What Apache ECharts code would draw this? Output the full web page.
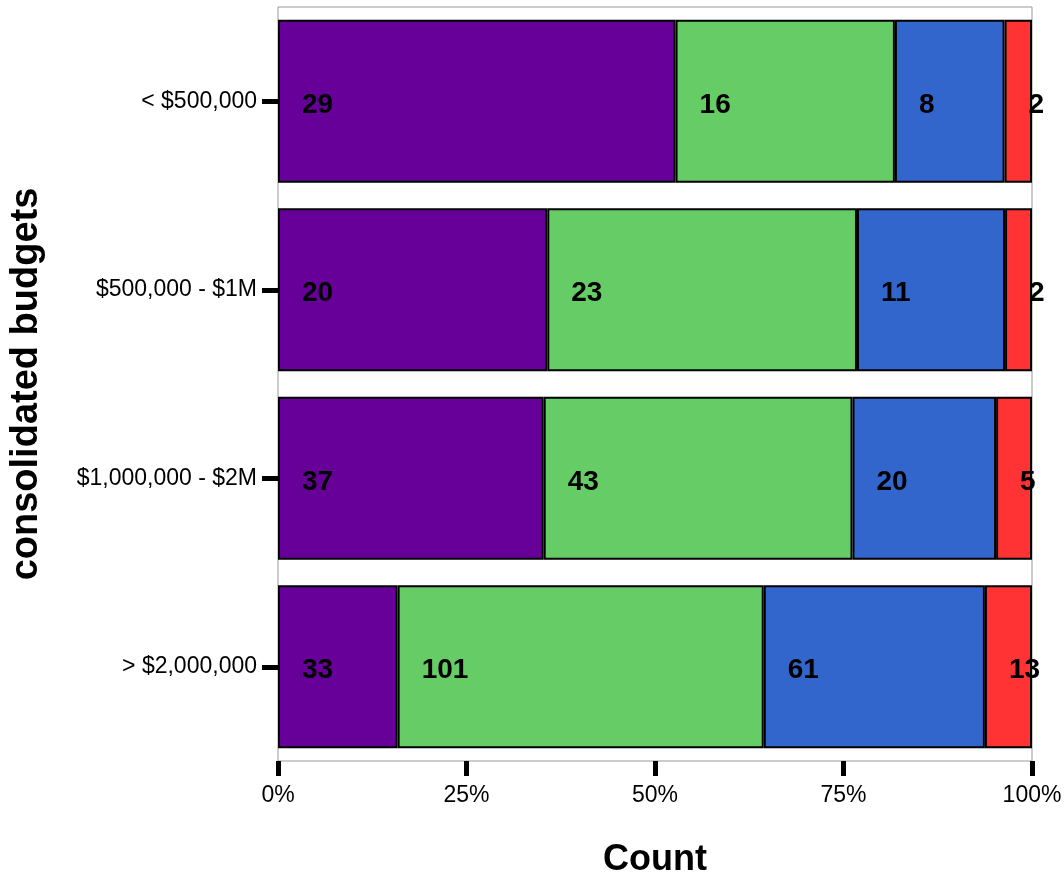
<!DOCTYPE html>
<html>
<head>
<meta charset="utf-8">
<script src="https://cdn.jsdelivr.net/npm/echarts@6/dist/echarts.min.js"></script>
<style>
html,body{margin:0;padding:0;background:#fff;}
#chart{width:1064px;height:881px;}
</style>
</head>
<body>
<div id="chart"></div>
<script>
// Data
const categories = ['< $500,000', '$500,000 - $1M', '$1,000,000 - $2M', '> $2,000,000'];
const seriesNames = ['Group A', 'Group B', 'Group C', 'Group D'];
const groupA = [29, 20, 37, 33];
const groupB = [16, 23, 43, 101];
const groupC = [8, 11, 20, 61];
const groupD = [2, 2, 5, 13];
const xTickLabels = ['0%', '25%', '50%', '75%', '100%'];
const colors = ['#660099', '#66CC66', '#3366CC', '#FF3333'];

const counts = [groupA, groupB, groupC, groupD];
const totals = categories.map((c, i) => counts.reduce((s, arr) => s + arr[i], 0));

const FONT = '"Liberation Sans", Arial, Helvetica, sans-serif';

const series = counts.map((arr, si) => ({
  name: seriesNames[si],
  type: 'bar',
  stack: 'total',
  barCategoryGap: '13.5%',
  data: arr.map((v, i) => v / totals[i] * 100),
  itemStyle: { color: colors[si], borderColor: '#000', borderWidth: 2 },
  label: {
    show: true,
    position: 'insideLeft',
    distance: 24,
    offset: [0, 4],
    color: '#000',
    fontFamily: FONT,
    fontWeight: 'bold',
    fontSize: 28,
    formatter: p => String(counts[si][p.dataIndex])
  },
  emphasis: { disabled: true }
}));

const chart = echarts.init(document.getElementById('chart'), null, { renderer: 'canvas' });
chart.setOption({
  animation: false,
  backgroundColor: '#fff',
  grid: {
    left: 278, right: 32, top: 7, bottom: 120,
    outerBoundsMode: 'none',
    containLabel: false,
    show: true, borderColor: '#999', borderWidth: 1, backgroundColor: 'transparent'
  },
  xAxis: {
    type: 'value',
    min: 0, max: 100, interval: 25,
    name: 'Count',
    nameLocation: 'middle',
    nameGap: 81,
    nameTextStyle: { fontFamily: FONT, fontWeight: 'bold', fontSize: 36, color: '#000' },
    axisLine: { show: false },
    axisTick: { show: true, length: 15, lineStyle: { color: '#000', width: 5 } },
    axisLabel: {
      margin: 23, fontFamily: FONT, fontSize: 23, color: '#000',
      formatter: v => xTickLabels[Math.round(v / 25)]
    },
    splitLine: { show: false }
  },
  yAxis: {
    type: 'category',
    inverse: true,
    data: categories,
    name: 'consolidated budgets',
    nameLocation: 'middle',
    nameGap: 232,
    nameRotate: 90,
    nameTextStyle: { fontFamily: FONT, fontWeight: 'bold', fontSize: 38, color: '#000' },
    axisLine: { show: false },
    axisTick: { show: true, alignWithLabel: true, length: 16, lineStyle: { color: '#000', width: 5 } },
    axisLabel: { margin: 21, fontFamily: FONT, fontSize: 23, color: '#000' },
    splitLine: { show: false }
  },
  series: series
});
</script>
</body>
</html>
